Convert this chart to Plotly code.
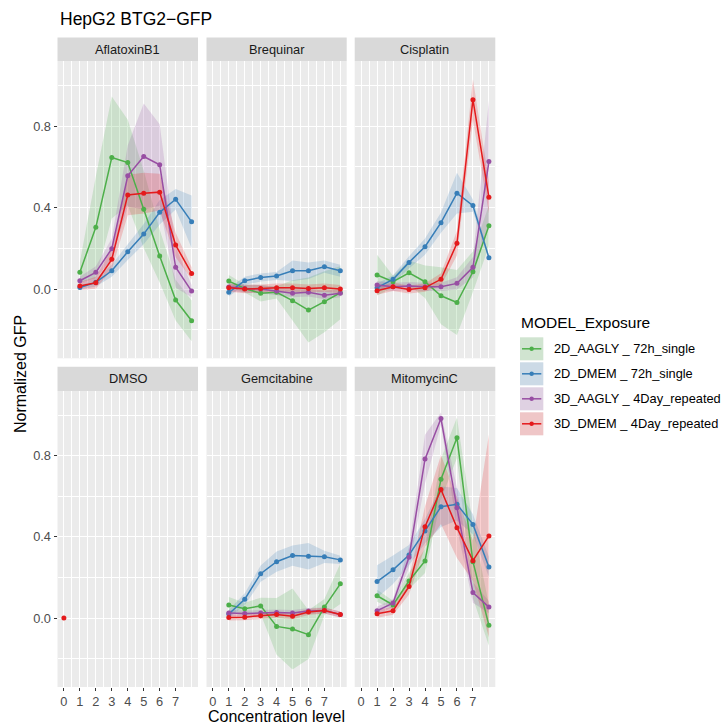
import plotly.graph_objects as go

# ---------------- data ----------------
LEVELS = [1, 2, 3, 4, 5, 6, 7, 8]
TICK_LEVELS = [0, 1, 2, 3, 4, 5, 6, 7]
SERIES = ["2D_AAGLY _ 72h_single", "2D_DMEM _ 72h_single",
          "3D_AAGLY _ 4Day_repeated", "3D_DMEM _ 4Day_repeated"]
DRUGS = ["AflatoxinB1", "Brequinar", "Cisplatin", "DMSO", "Gemcitabine", "MitomycinC"]

aflatoxin_mean = {
    SERIES[0]: [0.082, 0.303, 0.646, 0.621, 0.392, 0.162, -0.054, -0.156],
    SERIES[1]: [0.008, 0.033, 0.090, 0.183, 0.270, 0.377, 0.441, 0.330],
    SERIES[2]: [0.041, 0.082, 0.198, 0.556, 0.651, 0.610, 0.107, -0.010],
    SERIES[3]: [0.015, 0.031, 0.146, 0.462, 0.471, 0.476, 0.216, 0.077],
}
aflatoxin_sd = {
    SERIES[0]: [0.05, 0.25, 0.30, 0.21, 0.19, 0.13, 0.10, 0.10],
    SERIES[1]: [0.01, 0.02, 0.03, 0.04, 0.05, 0.06, 0.05, 0.13],
    SERIES[2]: [0.02, 0.03, 0.05, 0.15, 0.26, 0.20, 0.10, 0.03],
    SERIES[3]: [0.02, 0.03, 0.05, 0.10, 0.10, 0.09, 0.06, 0.03],
}
brequinar_mean = {
    SERIES[0]: [0.039, 0.003, -0.021, -0.016, -0.057, -0.103, -0.062, -0.018],
    SERIES[1]: [-0.016, 0.041, 0.057, 0.064, 0.090, 0.090, 0.110, 0.090],
    SERIES[2]: [0.010, 0.003, 0.000, -0.010, -0.020, -0.016, -0.030, -0.020],
    SERIES[3]: [0.007, 0.000, 0.003, 0.007, 0.007, 0.003, 0.007, 0.000],
}
brequinar_sd = {
    SERIES[0]: [0.03, 0.02, 0.04, 0.03, 0.10, 0.16, 0.15, 0.13],
    SERIES[1]: [0.02, 0.02, 0.02, 0.02, 0.05, 0.04, 0.03, 0.03],
    SERIES[2]: [0.02, 0.02, 0.02, 0.02, 0.02, 0.02, 0.02, 0.02],
    SERIES[3]: [0.02, 0.02, 0.02, 0.02, 0.02, 0.02, 0.02, 0.02],
}
cisplatin_mean = {
    SERIES[0]: [0.069, 0.036, 0.080, 0.036, -0.033, -0.066, 0.085, 0.311],
    SERIES[1]: [0.007, 0.048, 0.131, 0.208, 0.326, 0.471, 0.410, 0.154],
    SERIES[2]: [0.020, 0.011, 0.015, 0.011, 0.011, 0.028, 0.107, 0.626],
    SERIES[3]: [-0.008, 0.011, -0.002, 0.007, 0.048, 0.225, 0.930, 0.451],
}
cisplatin_sd = {
    SERIES[0]: [0.10, 0.03, 0.06, 0.08, 0.14, 0.16, 0.10, 0.10],
    SERIES[1]: [0.02, 0.02, 0.03, 0.04, 0.05, 0.10, 0.03, 0.01],
    SERIES[2]: [0.02, 0.02, 0.02, 0.02, 0.02, 0.03, 0.05, 0.30],
    SERIES[3]: [0.02, 0.02, 0.02, 0.02, 0.03, 0.06, 0.10, 0.08],
}
dmso_level = [0]
dmso_mean = {SERIES[3]: [0.0]}
gemcitabine_mean = {
    SERIES[0]: [0.064, 0.046, 0.060, -0.041, -0.054, -0.082, 0.054, 0.169],
    SERIES[1]: [0.020, 0.093, 0.219, 0.278, 0.308, 0.305, 0.302, 0.287],
    SERIES[2]: [0.025, 0.022, 0.025, 0.027, 0.025, 0.035, 0.037, 0.018],
    SERIES[3]: [0.003, 0.004, 0.012, 0.017, 0.009, 0.030, 0.037, 0.018],
}
gemcitabine_sd = {
    SERIES[0]: [0.04, 0.03, 0.04, 0.14, 0.20, 0.12, 0.04, 0.10],
    SERIES[1]: [0.02, 0.03, 0.04, 0.05, 0.05, 0.065, 0.03, 0.02],
    SERIES[2]: [0.015, 0.015, 0.015, 0.015, 0.015, 0.015, 0.015, 0.015],
    SERIES[3]: [0.015, 0.015, 0.015, 0.015, 0.015, 0.015, 0.015, 0.015],
}
mitomycin_mean = {
    SERIES[0]: [0.110, 0.065, 0.183, 0.282, 0.685, 0.889, 0.278, -0.036],
    SERIES[1]: [0.180, 0.238, 0.311, 0.429, 0.549, 0.561, 0.462, 0.252],
    SERIES[2]: [0.036, 0.074, 0.300, 0.784, 0.984, 0.544, 0.126, 0.054],
    SERIES[3]: [0.021, 0.036, 0.156, 0.451, 0.634, 0.446, 0.283, 0.405],
}
mitomycin_sd = {
    SERIES[0]: [0.03, 0.02, 0.04, 0.06, 0.10, 0.10, 0.18, 0.10],
    SERIES[1]: [0.08, 0.07, 0.05, 0.06, 0.10, 0.08, 0.05, 0.05],
    SERIES[2]: [0.02, 0.02, 0.05, 0.12, 0.03, 0.10, 0.05, 0.03],
    SERIES[3]: [0.02, 0.02, 0.04, 0.10, 0.17, 0.15, 0.10, 0.50],
}

# ---------------- style / layout ----------------
COLORS = ["#4DAF4A", "#377EB8", "#984EA3", "#E41A1C"]
FILLS = ["rgba(77,175,74,0.2)", "rgba(55,126,184,0.2)",
         "rgba(152,78,163,0.2)", "rgba(228,26,28,0.2)"]
FONT = "Liberation Sans, Arial, Helvetica, sans-serif"
W, H = 721, 727
COLS = [(57.5, 198.0), (206.5, 346.7), (354.7, 495.3)]
ROWS = [(61.0, 358.3), (391.0, 687.0)]
STRIPS = [(37.5, 61.0), (366.7, 391.0)]
XR = [-0.4, 8.4]
YR = [-0.34, 1.12]


def fx(p):
    return p / W


def fy(p):
    return 1 - p / H


panels = [
    (LEVELS, aflatoxin_mean, aflatoxin_sd),
    (LEVELS, brequinar_mean, brequinar_sd),
    (LEVELS, cisplatin_mean, cisplatin_sd),
    (dmso_level, dmso_mean, None),
    (LEVELS, gemcitabine_mean, gemcitabine_sd),
    (LEVELS, mitomycin_mean, mitomycin_sd),
]

fig = go.Figure()
layout = {}
shapes = []
annotations = []

for i, (xs, means, sds) in enumerate(panels):
    r, c = divmod(i, 3)
    n = i + 1
    xa = "x" if n == 1 else f"x{n}"
    ya = "y" if n == 1 else f"y{n}"
    xkey = "xaxis" if n == 1 else f"xaxis{n}"
    ykey = "yaxis" if n == 1 else f"yaxis{n}"
    bottom = r == 1
    left = c == 0
    layout[xkey] = dict(
        domain=[fx(COLS[c][0]), fx(COLS[c][1])], anchor=ya, range=XR,
        tickmode="array", tickvals=TICK_LEVELS, ticktext=[str(v) for v in TICK_LEVELS],
        showticklabels=bottom, ticks="outside" if bottom else "", ticklen=3,
        tickwidth=1, tickcolor="#333333",
        tickfont=dict(family=FONT, size=12.8, color="#4D4D4D"),
        showgrid=True, gridcolor="white", gridwidth=1.4, zeroline=False,
        showline=False, fixedrange=True,
        minor=dict(tick0=0, dtick=0.5, showgrid=True, gridcolor="white", gridwidth=0.7, ticks=""),
    )
    layout[ykey] = dict(
        domain=[fy(ROWS[r][1]), fy(ROWS[r][0])], anchor=xa, range=YR,
        tickmode="array", tickvals=[0.0, 0.4, 0.8], ticktext=["0.0", "0.4", "0.8"],
        showticklabels=left, ticks="outside" if left else "", ticklen=3,
        tickwidth=1, tickcolor="#333333",
        tickfont=dict(family=FONT, size=12.8, color="#4D4D4D"),
        showgrid=True, gridcolor="white", gridwidth=1.4, zeroline=False,
        showline=False, fixedrange=True,
        minor=dict(tick0=0, dtick=0.2, showgrid=True, gridcolor="white", gridwidth=0.7, ticks=""),
    )
    # strip
    shapes.append(dict(type="rect", xref="paper", yref="paper",
                       x0=fx(COLS[c][0]), x1=fx(COLS[c][1]),
                       y0=fy(STRIPS[r][1]), y1=fy(STRIPS[r][0]),
                       fillcolor="#D9D9D9", line=dict(width=0), layer="below"))
    annotations.append(dict(xref="paper", yref="paper",
                            x=fx((COLS[c][0] + COLS[c][1]) / 2),
                            y=fy((STRIPS[r][0] + STRIPS[r][1]) / 2),
                            text=DRUGS[i], showarrow=False, xanchor="center", yanchor="middle",
                            font=dict(family=FONT, size=12.8, color="#1A1A1A")))
    # ribbons
    if sds is not None:
        for k, s in enumerate(SERIES):
            if s not in means:
                continue
            m = means[s]
            sd = sds[s]
            up = [a + b for a, b in zip(m, sd)]
            lo = [a - b for a, b in zip(m, sd)]
            fig.add_trace(go.Scatter(
                x=list(xs) + list(xs)[::-1], y=up + lo[::-1], xaxis=xa, yaxis=ya,
                fill="toself", fillcolor=FILLS[k], line=dict(width=0),
                mode="lines", hoverinfo="skip", showlegend=False))
    for k, s in enumerate(SERIES):
        if s not in means:
            continue
        fig.add_trace(go.Scatter(
            x=xs, y=means[s], xaxis=xa, yaxis=ya, name=s,
            mode="lines+markers", line=dict(color=COLORS[k], width=1.5),
            marker=dict(color=COLORS[k], size=5), showlegend=False))

# plot title
annotations.append(dict(xref="paper", yref="paper", x=fx(57.5), y=fy(18.5),
                        text="HepG2 BTG2\u2212GFP", showarrow=False,
                        xanchor="left", yanchor="middle",
                        font=dict(family=FONT, size=17.5, color="black")))
# axis titles
annotations.append(dict(xref="paper", yref="paper", x=fx((COLS[0][0] + COLS[2][1]) / 2), y=fy(716.5),
                        text="Concentration level", showarrow=False,
                        xanchor="center", yanchor="middle",
                        font=dict(family=FONT, size=16, color="black")))
annotations.append(dict(xref="paper", yref="paper", x=fx(20), y=fy((ROWS[0][0] + ROWS[1][1]) / 2),
                        text="Normalized GFP", showarrow=False, textangle=-90,
                        xanchor="center", yanchor="middle",
                        font=dict(family=FONT, size=16, color="black")))

# legend (drawn manually, ggplot style)
annotations.append(dict(xref="paper", yref="paper", x=fx(519), y=fy(322),
                        text="MODEL_Exposure", showarrow=False,
                        xanchor="left", yanchor="middle",
                        font=dict(family=FONT, size=15.5, color="black")))
for k, s in enumerate(SERIES):
    top = 337.3 + 25 * k
    bot = top + 23
    mid = (top + bot) / 2
    shapes.append(dict(type="rect", xref="paper", yref="paper",
                       x0=fx(520), x1=fx(543.3), y0=fy(bot), y1=fy(top),
                       fillcolor="#F2F2F2", line=dict(width=0)))
    shapes.append(dict(type="rect", xref="paper", yref="paper",
                       x0=fx(520), x1=fx(543.3), y0=fy(bot), y1=fy(top),
                       fillcolor=FILLS[k], line=dict(width=0)))
    shapes.append(dict(type="line", xref="paper", yref="paper",
                       x0=fx(522), x1=fx(541.3), y0=fy(mid), y1=fy(mid),
                       line=dict(color=COLORS[k], width=1.5)))
    shapes.append(dict(type="circle", xref="paper", yref="paper",
                       x0=fx(531.65 - 2.2), x1=fx(531.65 + 2.2),
                       y0=fy(mid + 2.2), y1=fy(mid - 2.2),
                       fillcolor=COLORS[k], line=dict(width=0)))
    annotations.append(dict(xref="paper", yref="paper", x=fx(551.5), y=fy(mid),
                            text=s, showarrow=False, xanchor="left", yanchor="middle",
                            font=dict(family=FONT, size=12.8, color="black")))

fig.update_layout(
    width=W, height=H, margin=dict(l=0, r=0, t=0, b=0),
    paper_bgcolor="white", plot_bgcolor="#EBEBEB",
    showlegend=False, shapes=shapes, annotations=annotations,
    font=dict(family=FONT),
    **layout,
)

fig.write_html("out.html")
